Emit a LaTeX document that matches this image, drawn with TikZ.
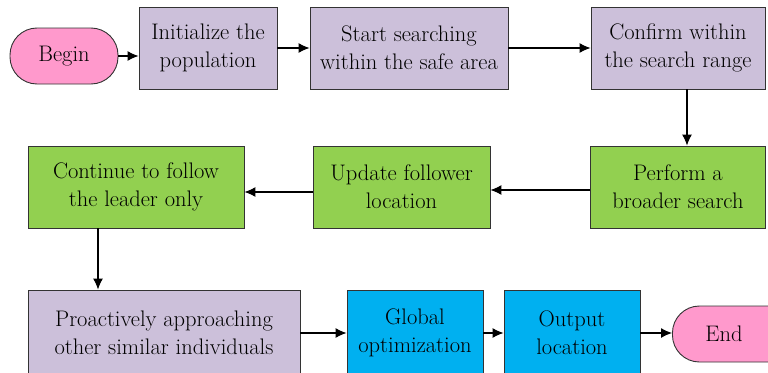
\documentclass[tikz,border=0pt]{standalone}
\usetikzlibrary{arrows.meta,positioning}
\definecolor{lavender}{RGB}{204,192,218}
\definecolor{leafgreen}{RGB}{146,208,80}
\definecolor{skyblue}{RGB}{0,176,240}
\definecolor{pinkterm}{RGB}{255,153,204}

\begin{document}
\begin{tikzpicture}[x=1pt, y=-1pt,
    every node/.style={font=\fontsize{22.5}{28}\selectfont, align=center},
    box/.style={draw=black!80, line width=0.9pt, inner sep=0pt, minimum height=82pt},
    term/.style={draw=black!80, line width=0.9pt, fill=pinkterm, rounded corners=27pt,
                 inner sep=0pt, minimum height=56pt},
    flow/.style={line width=1.1pt, -{Latex[length=11pt,width=10pt]}}]
        \useasboundingbox (0,0) rectangle (768,372);
        % first row
        \node[term, minimum width=108pt] (begin) at (64,56) {Begin};
        \node[box, fill=lavender, minimum width=138pt] (init) at (208,48) {Initialize the\\population};
        \node[box, fill=lavender, minimum width=198pt] (start) at (409,48) {Start searching\\within the safe area};
        \node[box, fill=lavender, minimum width=174pt] (confirm) at (678,48) {Confirm within\\the search range};
        % second row
        \node[box, fill=leafgreen, minimum width=175pt] (perform) at (678,187) {Perform a\\broader search};
        \node[box, fill=leafgreen, minimum width=177pt] (update) at (401.5,187) {Update follower\\location};
        \node[box, fill=leafgreen, minimum width=216pt] (follow) at (136,187) {Continue to follow\\the leader only};
        % third row
        \node[box, fill=lavender, minimum width=272pt, minimum height=86pt] (approach) at (164,333) {Proactively approaching\\other similar individuals};
        \node[box, fill=skyblue, minimum width=136pt, minimum height=86pt] (global) at (415,333) {Global\\optimization};
        \node[box, fill=skyblue, minimum width=136pt, minimum height=86pt] (output) at (572,333) {Output\\location};
        \node[term, anchor=west, text width=120pt, align=left, inner xsep=33pt] (end) at (672,334) {End};

        \draw[flow] (begin.east) -- (begin.east -| init.west);
        \draw[flow] (init) -- (start);
        \draw[flow] (start) -- (confirm);
        \draw[flow] ([xshift=9pt]confirm.south) -- ([xshift=9pt]perform.north);
        \draw[flow] ([yshift=-3pt]perform.west) -- ([yshift=-3pt]update.east);
        \draw[flow] ([yshift=-5pt]update.west) -- ([yshift=-5pt]follow.east);
        \draw[flow] ([xshift=-38pt]follow.south) -- ([xshift=-66pt]approach.north);
        \draw[flow] (approach) -- (global);
        \draw[flow] (global) -- (output);
        \draw[flow] (output.east) -- (output.east -| end.west);
      \end{tikzpicture}
\end{document}
